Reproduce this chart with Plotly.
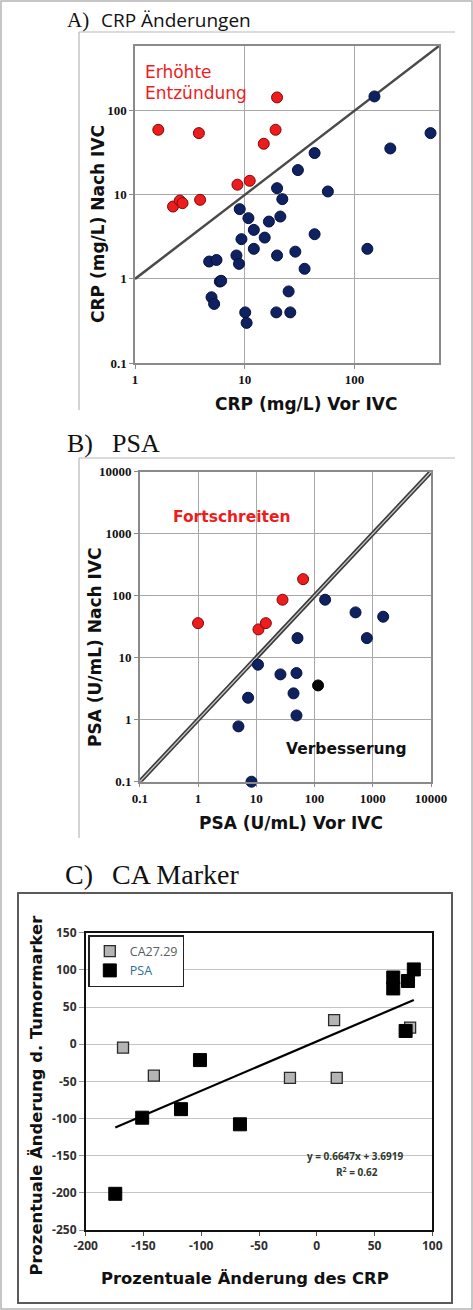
import plotly.graph_objects as go

W, H = 473, 1310

# ---------------- Panel A: CRP (mg/L) before / after IVC ----------------
crp_up_before = [1.63, 3.82, 19.7, 19.1, 14.9, 8.58, 11.1, 2.22, 2.56, 2.71, 3.92]
crp_up_after = [59.4, 54.2, 144, 59.4, 40.5, 13.2, 14.7, 7.26, 8.55, 7.96, 8.72]
crp_down_before = [152, 493, 212, 43.3, 30.5, 19.7, 57.2, 22.0, 9.0, 10.8, 21.1, 16.6,
                   12.1, 9.33, 15.2, 12.1, 43.3, 131, 28.9, 19.7, 8.4, 8.87, 4.74, 5.53,
                   35.1, 5.93, 6.1, 25.1, 4.98, 5.26, 10.1, 10.4, 19.4, 26.0]
crp_down_after = [148, 54.2, 35.6, 31.4, 19.7, 12.0, 10.96, 8.89, 6.76, 5.28, 5.52, 4.81,
                  3.83, 2.97, 3.1, 2.28, 3.4, 2.28, 2.11, 1.9, 1.9, 1.51, 1.61, 1.68,
                  1.32, 0.93, 0.95, 0.71, 0.605, 0.504, 0.40, 0.30, 0.40, 0.40]
crp_identity = [1, 590]
crp_xticks = [1, 10, 100]
crp_xlabels = ["1", "10", "100"]
crp_yticks = [0.1, 1, 10, 100]
crp_ylabels = ["0.1", "1", "10", "100"]

# ---------------- Panel B: PSA (U/mL) before / after IVC ----------------
psa_up_before = [1.0, 10.9, 14.6, 28.2, 63.7]
psa_up_after = [36.1, 28.6, 36.1, 86.1, 185]
psa_down_before = [152, 506, 1510, 51, 792, 10.7, 26, 49, 43.6, 7.23, 49, 4.94, 8.27]
psa_down_after = [86.1, 53.8, 45.8, 20.7, 20.7, 7.71, 5.38, 5.65, 2.66, 2.26, 1.17, 0.78, 0.1]
psa_other_before = [115]
psa_other_after = [3.57]
psa_identity = [0.1, 10000]
psa_ticks = [0.1, 1, 10, 100, 1000, 10000]
psa_labels = ["0.1", "1", "10", "100", "1000", "10000"]

# ---------------- Panel C: % change CRP vs % change tumour marker ----------------
ca_crp_change = [-167.7, -141, -23.2, 17.3, 15, 80.8]
ca_marker_change = [-4.5, -42.3, -45.4, -45.4, 32.5, 22.3]
psa_crp_change = [-101.1, -151.1, -117.5, -66.5, 76.9, -174.4, 66.2, 66.2, 79, 84]
psa_marker_change = [-21.4, -98.9, -87.4, -107.8, 17.8, -201.3, 89.7, 75, 85, 100.6]
fit_slope = 0.6647
fit_intercept = 3.6919
fit_r2 = 0.62
c_xticks = [-200, -150, -100, -50, 0, 50, 100]
c_yticks = [-250, -200, -150, -100, -50, 0, 50, 100, 150]


def fx(px):
    return px / W


def fy(py):
    return 1 - py / H


SERIF = "Liberation Serif"
SANS = "DejaVu Sans"
OPEN = "Open Sans"

NAVY = "#0f2160"
RED = "#ee1c1c"

fig = go.Figure()

# ---- Panel A traces
fig.add_trace(go.Scatter(x=crp_identity, y=crp_identity, mode="lines",
                         line=dict(color="#4a4a4a", width=2.5),
                         xaxis="x", yaxis="y", showlegend=False, hoverinfo="skip"))
fig.add_trace(go.Scatter(x=crp_down_before, y=crp_down_after, mode="markers",
                         marker=dict(size=11, color=NAVY, line=dict(color="#06103a", width=1)),
                         xaxis="x", yaxis="y", showlegend=False, cliponaxis=False))
fig.add_trace(go.Scatter(x=crp_up_before, y=crp_up_after, mode="markers",
                         marker=dict(size=11, color=RED, line=dict(color="#7a0a0a", width=1)),
                         xaxis="x", yaxis="y", showlegend=False, cliponaxis=False))

# ---- Panel B traces
fig.add_trace(go.Scatter(x=psa_identity, y=psa_identity, mode="lines",
                         line=dict(color="#3a3a3a", width=4.5),
                         xaxis="x2", yaxis="y2", showlegend=False, hoverinfo="skip"))
fig.add_trace(go.Scatter(x=psa_identity, y=psa_identity, mode="lines",
                         line=dict(color="#c8c8c8", width=1.3),
                         xaxis="x2", yaxis="y2", showlegend=False, hoverinfo="skip"))
fig.add_trace(go.Scatter(x=psa_down_before, y=psa_down_after, mode="markers",
                         marker=dict(size=11, color=NAVY, line=dict(color="#06103a", width=1)),
                         xaxis="x2", yaxis="y2", showlegend=False, cliponaxis=False))
fig.add_trace(go.Scatter(x=psa_other_before, y=psa_other_after, mode="markers",
                         marker=dict(size=11, color="#050505", line=dict(color="#000", width=1)),
                         xaxis="x2", yaxis="y2", showlegend=False, cliponaxis=False))
fig.add_trace(go.Scatter(x=psa_up_before, y=psa_up_after, mode="markers",
                         marker=dict(size=11, color=RED, line=dict(color="#7a0a0a", width=1)),
                         xaxis="x2", yaxis="y2", showlegend=False, cliponaxis=False))

# ---- Panel C traces
all_x = ca_crp_change + psa_crp_change
x_lo, x_hi = min(all_x), max(all_x)
fig.add_trace(go.Scatter(x=[x_lo, x_hi],
                         y=[fit_slope * x_lo + fit_intercept, fit_slope * x_hi + fit_intercept],
                         mode="lines", line=dict(color="#000", width=2.2),
                         xaxis="x3", yaxis="y3", showlegend=False, hoverinfo="skip"))
fig.add_trace(go.Scatter(x=ca_crp_change, y=ca_marker_change, mode="markers",
                         name='<span style="color:#55605f">CA27.29</span>',
                         marker=dict(symbol="square", size=11, color="#b4b4b4",
                                     line=dict(color="#2a2a2a", width=1.3)),
                         xaxis="x3", yaxis="y3", showlegend=True))
fig.add_trace(go.Scatter(x=psa_crp_change, y=psa_marker_change, mode="markers",
                         name='<span style="color:#2e6e8c">PSA</span>',
                         marker=dict(symbol="square", size=13, color="#000",
                                     line=dict(color="#000", width=1)),
                         xaxis="x3", yaxis="y3", showlegend=True))

tickfont_serif = dict(family=SERIF, size=13, color="#111")

log_common = dict(type="log", showgrid=True, gridcolor="#a8a8a8", gridwidth=1,
                  showline=True, linecolor="#8a8a8a", linewidth=1.5, mirror=True,
                  ticks="outside", ticklen=4, tickcolor="#8a8a8a", automargin=False,
                  zeroline=False, tickfont=tickfont_serif, fixedrange=True)


def bold(labels):
    return [f"<b>{s}</b>" for s in labels]


c_tickfont = dict(family=OPEN, size=12, color="#2f2f2f")

fig.update_layout(
    width=W, height=H,
    margin=dict(l=0, r=0, t=0, b=0, pad=0, autoexpand=False),
    paper_bgcolor="white", plot_bgcolor="white",
    xaxis=dict(domain=[fx(135), fx(439)], anchor="y", range=[0, 2.77],
               tickvals=crp_xticks, ticktext=bold(crp_xlabels), **log_common),
    yaxis=dict(domain=[fy(363), fy(46)], anchor="x", range=[-1, 2.77],
               tickvals=crp_yticks, ticktext=bold(crp_ylabels), **log_common),
    xaxis2=dict(domain=[fx(139.8), fx(431)], anchor="y2", range=[-1, 4],
                tickvals=psa_ticks, ticktext=bold(psa_labels), **log_common),
    yaxis2=dict(domain=[fy(781.7), fy(471.7)], anchor="x2", range=[-1, 4],
                tickvals=psa_ticks, ticktext=bold(psa_labels), **log_common),
    xaxis3=dict(domain=[fx(85.7), fx(432.3)], anchor="y3", range=[-200, 100],
                tickvals=c_xticks, ticktext=bold([str(v) for v in c_xticks]),
                showgrid=False, zeroline=False, automargin=False,
                showline=True, linecolor="#111", linewidth=1.6, mirror=True,
                ticks="outside", ticklen=4, tickcolor="#555",
                tickfont=c_tickfont, fixedrange=True),
    yaxis3=dict(domain=[fy(1230), fy(932.7)], anchor="x3", range=[-250, 150],
                tickvals=c_yticks, ticktext=bold([str(v) for v in c_yticks]),
                showgrid=True, gridcolor="#c4c4c4", gridwidth=1, automargin=False,
                zeroline=False, showline=True, linecolor="#111", linewidth=1.6, mirror=True,
                ticks="outside", ticklen=5, tickcolor="#999",
                tickfont=c_tickfont, fixedrange=True),
    legend=dict(x=fx(88.3), y=fy(935), xanchor="left", yanchor="top",
                bgcolor="white", bordercolor="#222", borderwidth=1.5,
                font=dict(family=OPEN, size=12.5, color="#55605f"),
                itemwidth=30, tracegroupgap=0),
    showlegend=True,
)

shapes = [
    # whole-image frame
    dict(type="rect", xref="paper", yref="paper", x0=fx(1), x1=fx(472), y0=fy(1309), y1=fy(1),
         line=dict(color="#b4b4b4", width=1.5)),
    # chart-box edges for panel A
    dict(type="line", xref="paper", yref="paper", x0=fx(79), x1=fx(455), y0=fy(32), y1=fy(32),
         line=dict(color="#b8b8b8", width=1.2)),
    dict(type="line", xref="paper", yref="paper", x0=fx(79), x1=fx(79), y0=fy(32), y1=fy(410),
         line=dict(color="#b8b8b8", width=1.2)),
    # chart-box edges for panel B
    dict(type="line", xref="paper", yref="paper", x0=fx(79), x1=fx(455), y0=fy(458), y1=fy(458),
         line=dict(color="#b8b8b8", width=1.2)),
    dict(type="line", xref="paper", yref="paper", x0=fx(79), x1=fx(79), y0=fy(458), y1=fy(838),
         line=dict(color="#b8b8b8", width=1.2)),
    # chart box for panel C
    dict(type="rect", xref="paper", yref="paper", x0=fx(18), x1=fx(452), y0=fy(1303), y1=fy(893),
         line=dict(color="#5a5a5a", width=2)),
]
fig.update_layout(shapes=shapes)


def ann(text, x, y, size, family, color="#111", is_bold=False, angle=0, xanchor="center"):
    t = f"<b>{text}</b>" if is_bold else text
    return dict(text=t, x=fx(x), y=fy(y), xref="paper", yref="paper", showarrow=False,
                xanchor=xanchor, yanchor="middle", textangle=angle,
                font=dict(family=family, size=size, color=color))


annotations = [
    # panel titles
    ann("A)", 65, 20, 21, SERIF, xanchor="left"),
    ann("CRP Änderungen", 99, 20, 19, OPEN, xanchor="left"),
    ann("B)", 65, 443, 26, SERIF, xanchor="left"),
    ann("PSA", 110, 443, 26, SERIF, xanchor="left"),
    ann("C)", 63, 874, 28, SERIF, xanchor="left"),
    ann("CA Marker", 110, 874, 28, SERIF, xanchor="left"),
    # panel A texts
    ann("Erhöhte", 143, 71.5, 17, SANS, color=RED, xanchor="left"),
    ann("Entzündung", 143, 93, 17, SANS, color=RED, xanchor="left"),
    ann("CRP (mg/L) Nach IVC", 98, 224, 17, SANS, is_bold=True, angle=-90),
    ann("CRP (mg/L) Vor IVC", 306, 404, 17, SANS, is_bold=True),
    # panel B texts
    ann("Fortschreiten", 232, 517, 15.5, SANS, color=RED, is_bold=True),
    ann("Verbesserung", 346, 749, 15.5, SANS, color="#111", is_bold=True),
    ann("PSA (U/mL) Nach IVC", 95, 647, 17, SANS, is_bold=True, angle=-90),
    ann("PSA (U/mL) Vor IVC", 291, 823, 17, SANS, is_bold=True),
    # panel C texts
    ann("Prozentuale Änderung d. Tumormarker", 35.5, 1095, 16.4, SANS, is_bold=True, angle=-90),
    ann("Prozentuale Änderung des CRP", 245, 1278, 16.4, SANS, is_bold=True),
    ann(f"y = {fit_slope}x + {fit_intercept}", 355, 1156, 10, OPEN, color="#2e3a2e", is_bold=True),
    ann(f"R<sup>2</sup> = {fit_r2}", 357, 1171.5, 10, OPEN, color="#2e3a2e", is_bold=True),
]
fig.update_layout(annotations=annotations)

fig.write_html(
    "out.html",
    config={"displayModeBar": False},
    post_script="document.body.style.margin='0';document.body.style.overflow='hidden';",
)
